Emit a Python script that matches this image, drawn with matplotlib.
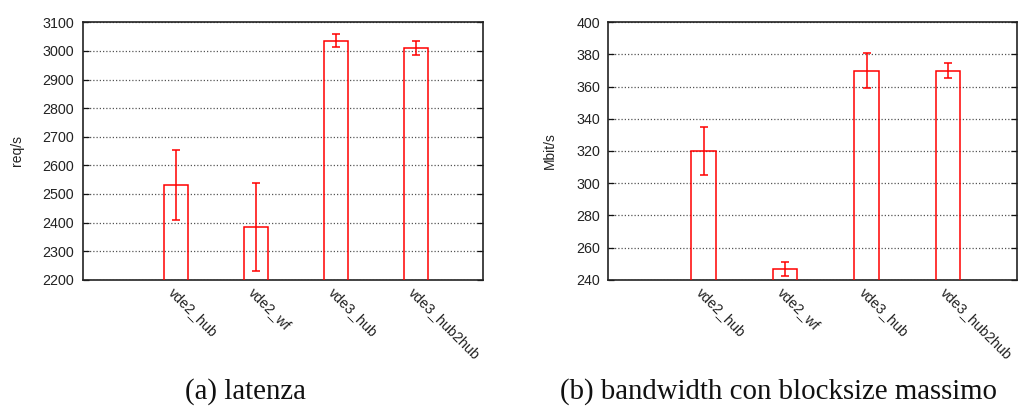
import matplotlib
matplotlib.use("Agg")
import matplotlib.pyplot as plt
import numpy as np

# Configurations under test
categories = ["vde2_hub", "vde2_wf", "vde3_hub", "vde3_hub2hub"]

# (a) latency test: requests per second, mean and error
latency_mean = [2531, 2383, 3036, 3011]
latency_err = [124, 154, 24, 25]
latency_ticks = [2200, 2300, 2400, 2500, 2600, 2700, 2800, 2900, 3000, 3100]

# (b) bandwidth with maximum block size: Mbit/s, mean and error
bandwidth_mean = [320, 246.5, 370, 370]
bandwidth_err = [15, 4.3, 10.7, 4.8]
bandwidth_ticks = [240, 260, 280, 300, 320, 340, 360, 380, 400]

plt.rcParams["font.family"] = ["Liberation Sans", "DejaVu Sans"]

W, H = 1018, 407
fig = plt.figure(figsize=(W / 100, H / 100), dpi=100)


def px_axes(left, top, right, bottom):
    return fig.add_axes([left / W, 1 - bottom / H, (right - left) / W, (bottom - top) / H])


def draw_panel(ax, means, errs, ticks, ylabel, label_x):
    x = np.arange(len(categories))
    ax.bar(x, means, width=0.3, facecolor="none", edgecolor="#ff0000",
           linewidth=1.1, zorder=3)
    ax.errorbar(x, means, yerr=errs, fmt="none", ecolor="#ff0000",
                elinewidth=1.1, capsize=3.2, capthick=1.1, zorder=4)
    ax.set_xlim(-1.17, 3.84)
    ax.set_ylim(ticks[0], ticks[-1])
    ax.set_yticks(ticks)
    ax.set_yticklabels([str(t) for t in ticks], fontsize=10.3, color="#222222")
    ax.set_xticks(x)
    ax.set_xticklabels(categories, rotation=-45, ha="left", va="top",
                       rotation_mode="anchor", fontsize=10.3, color="#222222")
    ax.tick_params(axis="x", length=0, pad=4)
    ax.tick_params(axis="y", direction="in", length=4, width=0.9,
                   right=True, pad=6, color="#111111")
    ax.grid(axis="y", linestyle=(0, (1, 1.6)), linewidth=0.9, color="#555555", zorder=1)
    ax.grid(axis="x", visible=False)
    for s in ax.spines.values():
        s.set_linewidth(1.2)
        s.set_color("#222222")
    fig.text(label_x / W, 1 - 151 / H, ylabel, rotation=90, ha="center",
             va="center", fontsize=10, color="#222222")


ax1 = px_axes(82.7, 22.3, 483.3, 279.7)
draw_panel(ax1, latency_mean, latency_err, latency_ticks, "req/s", 17)

ax2 = px_axes(608.3, 22.3, 1016.5, 279.7)
draw_panel(ax2, bandwidth_mean, bandwidth_err, bandwidth_ticks, "Mbit/s", 549.5)

cap_font = ["Liberation Serif", "DejaVu Serif"]
fig.text(245.5 / W, 1 - 392 / H, "(a) latenza", ha="center", va="center",
         fontsize=20.8, family=cap_font, color="#111111")
fig.text(778.5 / W, 1 - 392 / H, "(b) bandwidth con blocksize massimo",
         ha="center", va="center", fontsize=20.8, family=cap_font, color="#111111")

fig.savefig("out.png", dpi=100)
